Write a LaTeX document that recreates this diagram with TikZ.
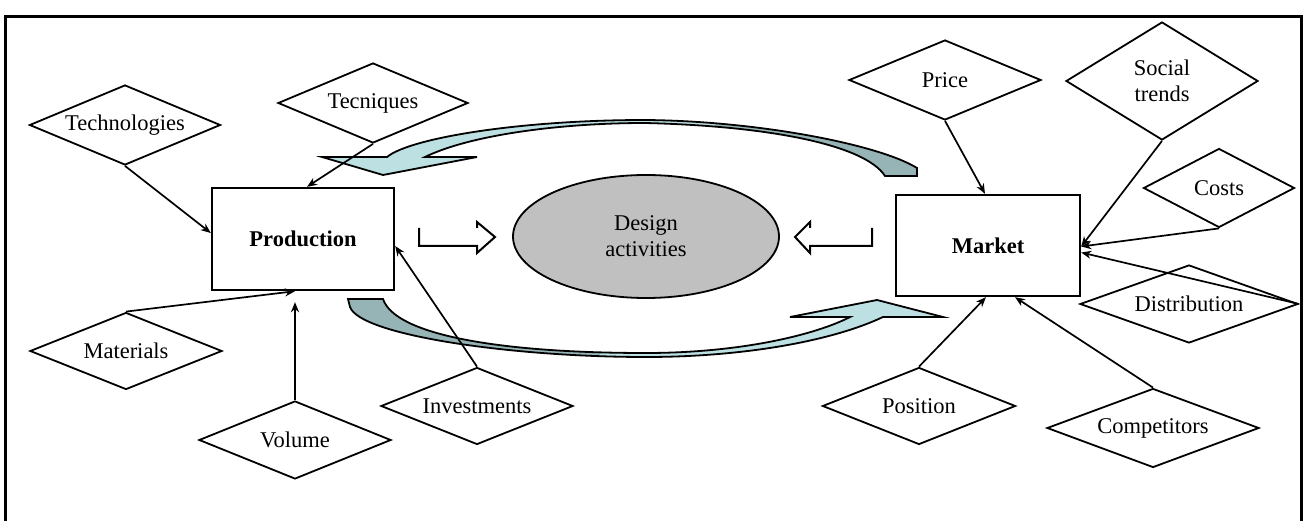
\documentclass[tikz,border=0pt]{standalone}
\usepackage{fontspec}
\setmainfont{Liberation Serif}
\usetikzlibrary{shapes.geometric,arrows.meta}
\definecolor{bandlight}{RGB}{189,224,227}
\definecolor{banddark}{RGB}{150,179,181}
\definecolor{ovalgray}{RGB}{192,192,192}
\newcommand{\figfont}{\fontsize{22.5}{26}\selectfont}

\begin{document}
\begin{tikzpicture}[x=1pt,y=-1pt,
    factor/.style={diamond,draw,line width=1.8pt,aspect=2.4,inner sep=0pt,minimum width=192pt,minimum height=80pt,align=center,font=\figfont},
    unit/.style={rectangle,draw,line width=2.4pt,minimum width=182pt,minimum height=102pt,font=\figfont\bfseries},
    link/.style={line width=1.7pt,-{Stealth[length=10pt,width=8pt]}}]
    \useasboundingbox (0,0) rectangle (1304,521);
    \draw[line width=3pt] (5,521) -- (5,17) -- (1301,17) -- (1301,521);

    \path[save path=\topband] (917,176) -- (917,168) .. controls (880,145) and (760,121) .. (645,120) .. controls (520,120) and (410,138) .. (387,157) -- (322,157) -- (383,175) -- (477,157) -- (425,157) .. controls (470,135) and (560,123) .. (645,123) .. controls (770,126) and (865,145) .. (885,176) -- cycle;
    \path[save path=\bottomband] (348,299) -- (383,299) .. controls (395,335) and (500,353) .. (646,353) .. controls (740,353) and (815,335) .. (850,317) -- (790,317) -- (877,300) -- (943,317) -- (883,317) .. controls (830,342) and (740,357) .. (646,357) .. controls (510,357) and (360,335) .. (350,307) -- cycle;
    \fill[banddark,use path=\topband];
    \fill[bandlight,use path=\bottomband];
    \begin{scope}
        \clip (0,0) rectangle (715,521);
        \fill[bandlight,use path=\topband];
    \end{scope}
    \begin{scope}
        \clip (0,0) rectangle (600,521);
        \fill[banddark,use path=\bottomband];
    \end{scope}
    \draw[line width=1.8pt,use path=\topband];
    \draw[line width=1.8pt,use path=\bottomband];

    \node[unit] (prod) at (303,239) {Production};
    \node[unit,minimum width=184pt,minimum height=101pt] (market) at (988,245.5) {Market};
    \node[ellipse,draw,fill=ovalgray,line width=1.8pt,minimum width=266pt,minimum height=123pt,align=center,font=\figfont] (design) at (646,236.5) {Design\\activities};

    \draw[line width=2pt] (419,228) -- (419,246) -- (477,246) -- (477,253) -- (495,237) -- (477,222) -- (477,228);
    \draw[line width=2pt] (872,228) -- (872,246) -- (810,246) -- (810,253) -- (795,237) -- (810,222) -- (810,228);

    \node[factor,minimum width=191pt] (tech) at (125,125) {Technologies};
    \node[factor,minimum width=190pt] (tecn) at (373,103) {Tecniques};
    \node[factor,minimum height=77pt] (mat) at (126,351) {Materials};
    \node[factor,minimum height=78pt] (vol) at (295,440) {Volume};
    \node[factor,minimum height=77pt] (inv) at (477,406) {Investments};
    \node[factor] (price) at (945,80) {Price};
    \node[factor,minimum height=118pt] (social) at (1162,81) {Social\\trends};
    \node[factor,minimum width=151pt,minimum height=79pt] (costs) at (1219,188) {Costs};
    \node[factor,minimum width=218pt,minimum height=78pt] (distr) at (1189,304) {Distribution};
    \node[factor,minimum width=193pt,minimum height=77pt] (pos) at (919,406) {Position};
    \node[factor,minimum width=212pt,minimum height=79pt] (comp) at (1153,428) {Competitors};

    \draw[link] (tech.south) -- ([yshift=6pt]prod.west);
    \draw[link] (tecn.south) -- ([xshift=4pt]prod.north);
    \draw[link] (mat.north) -- ([xshift=-8pt]prod.south);
    \draw[link] (vol.north) -- ([xshift=-8pt,yshift=-11pt]prod.south);
    \draw[link] (inv.north) -- ([yshift=-7pt]prod.east);
    \draw[link] (price.south) -- ([xshift=-3pt]market.north);
    \draw[link] (social.south) -- ([yshift=-1pt]market.east);
    \draw[link] (costs.south) -- ([yshift=-1pt]market.east);
    \draw[link] (distr.east) -- ([yshift=-7pt]market.east);
    \draw[link] (pos.north) -- ([xshift=-2pt]market.south);
    \draw[link] (comp.north) -- ([xshift=27pt]market.south);
\end{tikzpicture}
\end{document}
